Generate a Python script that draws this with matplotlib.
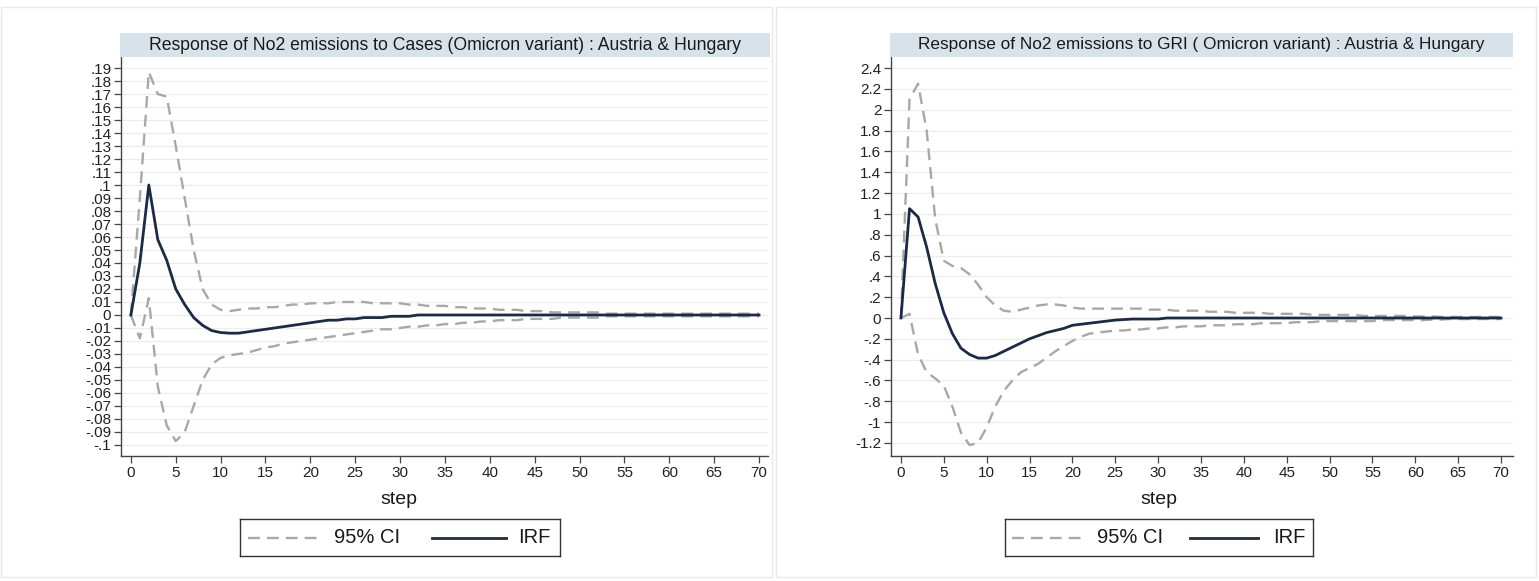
import matplotlib
matplotlib.use("Agg")
import matplotlib.pyplot as plt
from matplotlib.patches import Rectangle
from matplotlib.lines import Line2D

plt.rcParams['font.family'] = ['Liberation Sans', 'DejaVu Sans']

steps = list(range(71))

# Response of NO2 emissions to Cases (Omicron)
cases_irf = [0, 0.040, 0.100, 0.058, 0.042, 0.020, 0.008, -0.002, -0.008, -0.012,
             -0.0135, -0.014, -0.014, -0.013, -0.012, -0.011, -0.010, -0.009, -0.008, -0.007,
             -0.006, -0.005, -0.004, -0.004, -0.003, -0.003, -0.002, -0.002, -0.002, -0.001,
             -0.001, -0.001, 0, 0, 0, 0, 0, 0, 0, 0,
             0, 0, 0, 0, 0, 0, 0, 0, 0, 0,
             0, 0, 0, 0, 0, 0, 0, 0, 0, 0,
             0, 0, 0, 0, 0, 0, 0, 0, 0, 0, 0]
cases_hi = [0, 0.090, 0.187, 0.170, 0.168, 0.130, 0.090, 0.050, 0.020, 0.008,
            0.004, 0.003, 0.004, 0.005, 0.005, 0.006, 0.006, 0.007, 0.008, 0.008,
            0.009, 0.009, 0.009, 0.010, 0.010, 0.010, 0.010, 0.009, 0.009, 0.009,
            0.009, 0.008, 0.008, 0.007, 0.007, 0.007, 0.006, 0.006, 0.005, 0.005,
            0.005, 0.004, 0.004, 0.004, 0.003, 0.003, 0.003, 0.002, 0.002, 0.002,
            0.002, 0.002, 0.002, 0.001, 0.001, 0.001, 0.001, 0.001, 0.001, 0.001,
            0.001, 0.001, 0.001, 0.001, 0.001, 0.001, 0.001, 0.001, 0.001, 0.001, 0.001]
cases_lo = [0, -0.018, 0.013, -0.055, -0.085, -0.097, -0.090, -0.070, -0.050, -0.038,
            -0.033, -0.031, -0.030, -0.029, -0.027, -0.025, -0.024, -0.022, -0.021, -0.020,
            -0.019, -0.018, -0.017, -0.016, -0.015, -0.014, -0.013, -0.012, -0.011, -0.011,
            -0.010, -0.009, -0.009, -0.008, -0.008, -0.007, -0.007, -0.006, -0.006, -0.005,
            -0.005, -0.004, -0.004, -0.004, -0.003, -0.003, -0.003, -0.003, -0.002, -0.002,
            -0.002, -0.002, -0.002, -0.001, -0.001, -0.001, -0.001, -0.001, -0.001, -0.001,
            -0.001, -0.001, -0.001, -0.001, -0.001, -0.001, -0.001, -0.001, -0.001, -0.001, -0.001]

# Response of NO2 emissions to GRI (Omicron)
gri_irf = [0, 1.05, 0.97, 0.68, 0.33, 0.05, -0.15, -0.29, -0.35, -0.385,
           -0.385, -0.36, -0.32, -0.28, -0.24, -0.20, -0.17, -0.14, -0.12, -0.10,
           -0.07, -0.06, -0.05, -0.04, -0.03, -0.02, -0.015, -0.01, -0.01, -0.01,
           -0.01, 0, 0, 0, 0, 0, 0, 0, 0, 0,
           0, 0, 0, 0, 0, 0, 0, 0, 0, 0,
           0, 0, 0, 0, 0, 0, 0, 0, 0, 0,
           0, 0, 0, 0, 0, 0, 0, 0, 0, 0, 0]
gri_hi = [0, 2.10, 2.25, 1.80, 0.95, 0.55, 0.50, 0.48, 0.42, 0.32,
          0.20, 0.12, 0.07, 0.06, 0.08, 0.10, 0.12, 0.13, 0.13, 0.12,
          0.10, 0.09, 0.09, 0.09, 0.09, 0.09, 0.09, 0.09, 0.09, 0.08,
          0.08, 0.08, 0.07, 0.07, 0.07, 0.07, 0.06, 0.06, 0.06, 0.05,
          0.05, 0.05, 0.05, 0.04, 0.04, 0.04, 0.04, 0.04, 0.03, 0.03,
          0.03, 0.03, 0.03, 0.03, 0.02, 0.02, 0.02, 0.02, 0.02, 0.02,
          0.015, 0.015, 0.015, 0.01, 0.01, 0.01, 0.01, 0.01, 0.01, 0.01, 0.01]
gri_lo = [0, 0.04, -0.35, -0.52, -0.58, -0.65, -0.85, -1.10, -1.22, -1.20,
          -1.05, -0.85, -0.70, -0.60, -0.52, -0.48, -0.44, -0.38, -0.32, -0.27,
          -0.22, -0.18, -0.15, -0.14, -0.13, -0.12, -0.12, -0.11, -0.11, -0.10,
          -0.10, -0.09, -0.09, -0.08, -0.08, -0.08, -0.07, -0.07, -0.07, -0.06,
          -0.06, -0.06, -0.05, -0.05, -0.05, -0.05, -0.04, -0.04, -0.04, -0.03,
          -0.03, -0.03, -0.03, -0.03, -0.03, -0.03, -0.02, -0.02, -0.02, -0.02,
          -0.02, -0.02, -0.015, -0.015, -0.01, -0.01, -0.01, -0.01, -0.01, -0.01, -0.01]

cases_title = "Response of No2 emissions to Cases (Omicron variant) : Austria & Hungary"
gri_title = "Response of No2 emissions to GRI ( Omicron variant) : Austria & Hungary"

cases_yticks = [round(-0.10 + 0.01 * i, 2) for i in range(30)]
gri_yticks = [round(-1.2 + 0.2 * i, 1) for i in range(19)]
xticks = list(range(0, 71, 5))


def stata_fmt(v):
    if abs(v) < 1e-9:
        return "0"
    s = ("%.2f" % v).rstrip("0").rstrip(".")
    s = s.replace("0.", ".")
    return s


W, H = 1539, 581
fig = plt.figure(figsize=(W / 100, H / 100), dpi=100)
fig.patch.set_facecolor("white")

IRF_COLOR = "#1c2a48"
CI_COLOR = "#a8a8a8"
BAND_COLOR = "#d8e2ea"
TEXT_COLOR = "#1a1a1a"


def px_rect(x0, y0, x1, y1):
    return [x0 / W, 1 - y1 / H, (x1 - x0) / W, (y1 - y0) / H]


# outer graph-region frames
for (x0, x1) in [(1, 772), (776, 1536)]:
    fig.patches.append(Rectangle((x0 / W, 4 / H), (x1 - x0) / W, (H - 11) / H,
                                 transform=fig.transFigure, facecolor="none",
                                 edgecolor="#e8e8e8", linewidth=1.0, zorder=0))


def panel(ax_box, band_box, title, title_size, irf, lo, hi, yticks, xlim, ylim,
          step_x, legend_box, legend_layout):
    ax = fig.add_axes(px_rect(*ax_box))
    ax.set_facecolor("white")
    # title band
    bx0, by0, bx1, by1 = band_box
    fig.patches.append(Rectangle((bx0 / W, 1 - by1 / H), (bx1 - bx0) / W, (by1 - by0) / H,
                                 transform=fig.transFigure, facecolor=BAND_COLOR,
                                 edgecolor="none", zorder=1))
    fig.text((bx0 + bx1) / 2 / W, 1 - (by0 + by1) / 2 / H, title, ha="center", va="center",
             fontsize=title_size, color=TEXT_COLOR)

    for t in yticks:
        ax.axhline(t, color="#ececec", linewidth=0.9, zorder=0)
    ax.plot(steps, hi, color=CI_COLOR, linestyle=(0, (5, 3)), linewidth=1.7, zorder=2)
    ax.plot(steps, lo, color=CI_COLOR, linestyle=(0, (5, 3)), linewidth=1.7, zorder=2)
    ax.plot(steps, irf, color=IRF_COLOR, linewidth=2.0, zorder=3)

    ax.set_xlim(*xlim)
    ax.set_ylim(*ylim)
    ax.set_xticks(xticks)
    ax.set_xticklabels([str(x) for x in xticks])
    ax.set_yticks(yticks)
    ax.set_yticklabels([stata_fmt(t) for t in yticks])
    for side in ("top", "right"):
        ax.spines[side].set_visible(False)
    for side in ("left", "bottom"):
        ax.spines[side].set_color("#444444")
        ax.spines[side].set_linewidth(1.0)
    ax.tick_params(axis="both", direction="out", length=5, width=0.9, color="#444444",
                   labelsize=11, labelcolor="#222222", pad=2)
    fig.text(step_x / W, 1 - 500 / H, "step", ha="center", va="center",
             fontsize=14, color=TEXT_COLOR)

    # legend box
    lx0, ly0, lx1, ly1 = legend_box
    d0, d1, t0, s0, s1, t1 = legend_layout
    lax = fig.add_axes(px_rect(lx0, ly0, lx1, ly1))
    lax.set_xlim(0, 1)
    lax.set_ylim(0, 1)
    lax.set_xticks([])
    lax.set_yticks([])
    for s in lax.spines.values():
        s.set_color("#333333")
        s.set_linewidth(1.0)
    lax.add_line(Line2D([d0, d1], [0.5, 0.5], color=CI_COLOR,
                        linestyle=(0, (5, 3)), linewidth=1.7))
    lax.text(t0, 0.5, "95% CI", ha="left", va="center", fontsize=14.5, color=TEXT_COLOR)
    lax.add_line(Line2D([s0, s1], [0.5, 0.5], color=IRF_COLOR, linewidth=2.0))
    lax.text(t1, 0.5, "IRF", ha="left", va="center", fontsize=14.5, color=TEXT_COLOR)
    return ax


panel((121, 57, 768, 456), (120, 33, 770, 57), cases_title, 12.7,
      cases_irf, cases_lo, cases_hi, cases_yticks,
      (-1.1, 71.0), (-0.1085, 0.1985), 399,
      (240, 519, 560, 556), (0.025, 0.255, 0.294, 0.60, 0.83, 0.87))

panel((891, 57, 1513, 456), (890, 33, 1513, 57), gri_title, 12.4,
      gri_irf, gri_lo, gri_hi, gri_yticks,
      (-1.16, 71.4), (-1.325, 2.506), 1159,
      (1005, 519, 1313, 556), (0.022, 0.26, 0.30, 0.60, 0.82, 0.87))

fig.savefig("out.png", dpi=100, facecolor="white")
